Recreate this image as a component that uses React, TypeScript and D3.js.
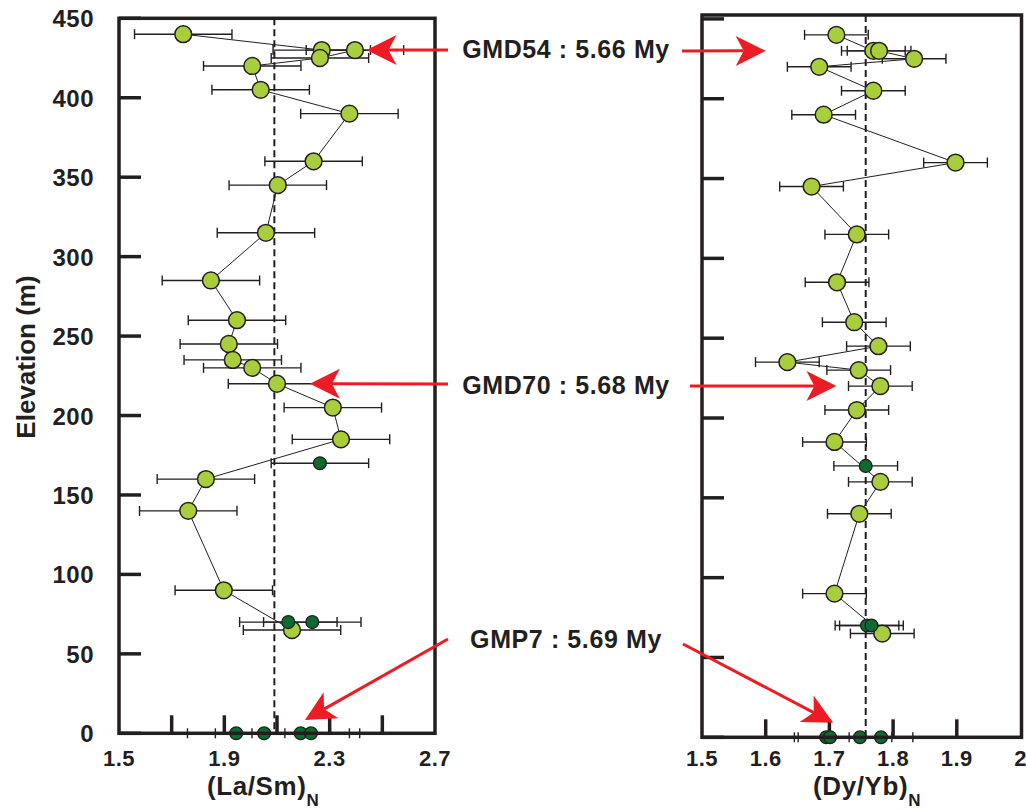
import React from "react";
import * as d3 from "d3";

// ---------- data ----------
// light-green samples (section), ordered from top to bottom
const elevLight = [440, 430, 430, 425, 420, 405, 390, 360, 345, 315, 285, 260, 245, 235, 230, 220, 205, 185, 160, 140, 90, 65];
const laSmLight = [1.744, 2.27, 2.396, 2.263, 2.006, 2.038, 2.375, 2.239, 2.103, 2.058, 1.849, 1.948, 1.917, 1.932, 2.006, 2.1, 2.312, 2.343, 1.83, 1.763, 1.898, 2.157];
const dyYbLight = [1.711, 1.769, 1.778, 1.833, 1.684, 1.769, 1.691, 1.898, 1.672, 1.743, 1.712, 1.739, 1.777, 1.634, 1.746, 1.78, 1.743, 1.708, 1.78, 1.747, 1.708, 1.783];

// dark-green samples
const elevDark = [170, 70, 70, 0, 0, 0, 0];
const laSmDark = [2.263, 2.143, 2.234, 1.945, 2.051, 2.19, 2.229];
const dyYbDark = [1.757, 1.759, 1.766, 1.695, 1.701, 1.748, 1.781];

const laSmErr = 0.185;
const dyYbErr = 0.05;

const laSmRef = 2.09;
const dyYbRef = 1.757;

const elevTicks = [0, 50, 100, 150, 200, 250, 300, 350, 400, 450];
const laSmTickMarks = [1.7, 1.9, 2.1, 2.3, 2.5];
const laSmTickLabels = [1.5, 1.9, 2.3, 2.7];
const dyYbTickMarks = [1.6, 1.7, 1.8, 1.9];
const dyYbTickLabels = [1.5, 1.6, 1.7, 1.8, 1.9, 2.0];

// annotations: label, elevation of arrow tips, tip values in each panel
const annLabels = ["GMD54 : 5.66 My", "GMD70 : 5.68 My", "GMP7 : 5.69 My"];
const annElevLeft = [430, 220, 8.4];
const annElevRight = [430, 220, 9.1];
const annTipLaSm = [2.44, 2.225, 2.206];
const annTipDyYb = [1.6, 1.711, 1.706];

// ---------- style ----------
const FONT = "'Liberation Sans', Arial, Helvetica, sans-serif";
const INK = "#231f20";
const LIGHT = "#a8cf3b";
const DARK = "#0e6b30";
const RED = "#ed1c24";

type Panel = {
  x: d3.ScaleLinear<number, number>;
  y: d3.ScaleLinear<number, number>;
  top: number;
  right: number;
  vals: number[];
  dark: number[];
  err: number;
  ref: number;
  tickMarks: number[];
  tickLabels: number[];
  fmt: (v: number) => string;
};

function PanelView({ p }: { p: Panel }) {
  const left = p.x.range()[0];
  const bottom = p.y.range()[0];
  const line = d3
    .line<number>()
    .x((_, i) => p.x(p.vals[i]))
    .y((_, i) => p.y(elevLight[i]));
  const cap = 5;
  const errBar = (v: number, e: number, key: string) => {
    const x0 = p.x(v - p.err);
    const x1 = p.x(v + p.err);
    const y = p.y(e);
    return (
      <g key={key} stroke={INK} strokeWidth={1.4}>
        <line x1={x0} x2={x1} y1={y} y2={y} />
        <line x1={x0} x2={x0} y1={y - cap} y2={y + cap} />
        <line x1={x1} x2={x1} y1={y - cap} y2={y + cap} />
      </g>
    );
  };
  return (
    <g>
      {elevTicks.map((t) => (
        <line key={"yt" + t} x1={left} x2={left + 22} y1={p.y(t)} y2={p.y(t)} stroke={INK} strokeWidth={3.5} />
      ))}
      {p.tickMarks.map((t) => (
        <line key={"xt" + t} x1={p.x(t)} x2={p.x(t)} y1={bottom} y2={bottom - 18} stroke={INK} strokeWidth={3.5} />
      ))}
      <line x1={p.x(p.ref)} x2={p.x(p.ref)} y1={p.top} y2={bottom} stroke={INK} strokeWidth={2} strokeDasharray="7 4" />
      {p.vals.map((v, i) => errBar(v, elevLight[i], "el" + i))}
      {p.dark.map((v, i) => errBar(v, elevDark[i], "ed" + i))}
      <path d={line(p.vals) || ""} fill="none" stroke={INK} strokeWidth={1} />
      {p.vals.map((v, i) => (
        <circle key={"pl" + i} cx={p.x(v)} cy={p.y(elevLight[i])} r={8.4} fill={LIGHT} stroke={INK} strokeWidth={1.5} />
      ))}
      {p.dark.map((v, i) => (
        <circle key={"pd" + i} cx={p.x(v)} cy={p.y(elevDark[i])} r={6.4} fill={DARK} stroke={INK} strokeWidth={1.3} />
      ))}
      <rect x={left} y={p.top} width={p.right - left} height={bottom - p.top} fill="none" stroke={INK} strokeWidth={3.5} />
      {p.tickLabels.map((t) => (
        <text key={"xl" + t} x={p.x(t)} y={766} textAnchor="middle" fontFamily={FONT} fontWeight="bold" fontSize={22} letterSpacing={0.5} fill={INK}>
          {p.fmt(t)}
        </text>
      ))}
    </g>
  );
}

function Arrow({ x1, y1, x2, y2 }: { x1: number; y1: number; x2: number; y2: number }) {
  const ang = Math.atan2(y2 - y1, x2 - x1);
  const deg = (ang * 180) / Math.PI;
  const L = 22;
  const ex = x2 - Math.cos(ang) * L;
  const ey = y2 - Math.sin(ang) * L;
  return (
    <g>
      <line x1={x1} y1={y1} x2={ex} y2={ey} stroke={RED} strokeWidth={3} />
      <polygon points="0,0 -30,-15 -22,0 -30,15" fill={RED} transform={`translate(${x2},${y2}) rotate(${deg})`} />
    </g>
  );
}

export default function App() {
  const left: Panel = {
    x: d3.scaleLinear().domain([1.5, 2.7]).range([119, 435]),
    y: d3.scaleLinear().domain([0, 450]).range([733.3, 18.3]),
    top: 18.3,
    right: 435,
    vals: laSmLight,
    dark: laSmDark,
    err: laSmErr,
    ref: laSmRef,
    tickMarks: laSmTickMarks,
    tickLabels: laSmTickLabels,
    fmt: (v) => d3.format(".1f")(v),
  };
  const right: Panel = {
    x: d3.scaleLinear().domain([1.5, 2.0]).range([702, 1020.5]),
    y: d3.scaleLinear().domain([0, 450]).range([737.3, 18.9]),
    top: 15,
    right: 1021.5,
    vals: dyYbLight,
    dark: dyYbDark,
    err: dyYbErr,
    ref: dyYbRef,
    tickMarks: dyYbTickMarks,
    tickLabels: dyYbTickLabels,
    fmt: (v) => (v === 2 ? "2" : d3.format(".1f")(v)),
  };

  const annTextX = 566;
  const annBase = [58, 394, 648];
  const tailLeft = [
    [448, 50],
    [448, 384],
    [448, 639],
  ];
  const tailRight = [
    [682, 51],
    [690, 386],
    [683, 644],
  ];

  return (
    <svg width={1026} height={811} style={{ position: "absolute", left: 0, top: 0, background: "#fff" }}>
      <rect width={1026} height={811} fill="#fff" />
      <PanelView p={left} />
      <PanelView p={right} />

      {elevTicks.map((t) => (
        <text key={"yl" + t} x={94} y={left.y(t) + 9} textAnchor="end" fontFamily={FONT} fontWeight="bold" fontSize={24} letterSpacing={0.5} fill={INK}>
          {t}
        </text>
      ))}

      <text transform={`translate(35,357) rotate(-90)`} textAnchor="middle" fontFamily={FONT} fontWeight="bold" fontSize={26} fill={INK}>
        Elevation (m)
      </text>
      <text x={207} y={795} fontFamily={FONT} fontWeight="bold" fontSize={26} letterSpacing={0.6} fill={INK}>
        (La/Sm)
        <tspan fontSize={17} dy={11}>N</tspan>
      </text>
      <text x={813} y={795} fontFamily={FONT} fontWeight="bold" fontSize={26} letterSpacing={0.6} fill={INK}>
        (Dy/Yb)
        <tspan fontSize={17} dy={11}>N</tspan>
      </text>

      {annLabels.map((lab, i) => (
        <g key={"ann" + i}>
          <Arrow x1={tailLeft[i][0]} y1={tailLeft[i][1]} x2={left.x(annTipLaSm[i])} y2={left.y(annElevLeft[i])} />
          <Arrow x1={tailRight[i][0]} y1={tailRight[i][1]} x2={right.x(annTipDyYb[i])} y2={right.y(annElevRight[i])} />
          <text x={annTextX} y={annBase[i]} textAnchor="middle" fontFamily={FONT} fontWeight="bold" fontSize={25} letterSpacing={0.6} fill={INK}>
            {lab}
          </text>
        </g>
      ))}
    </svg>
  );
}
